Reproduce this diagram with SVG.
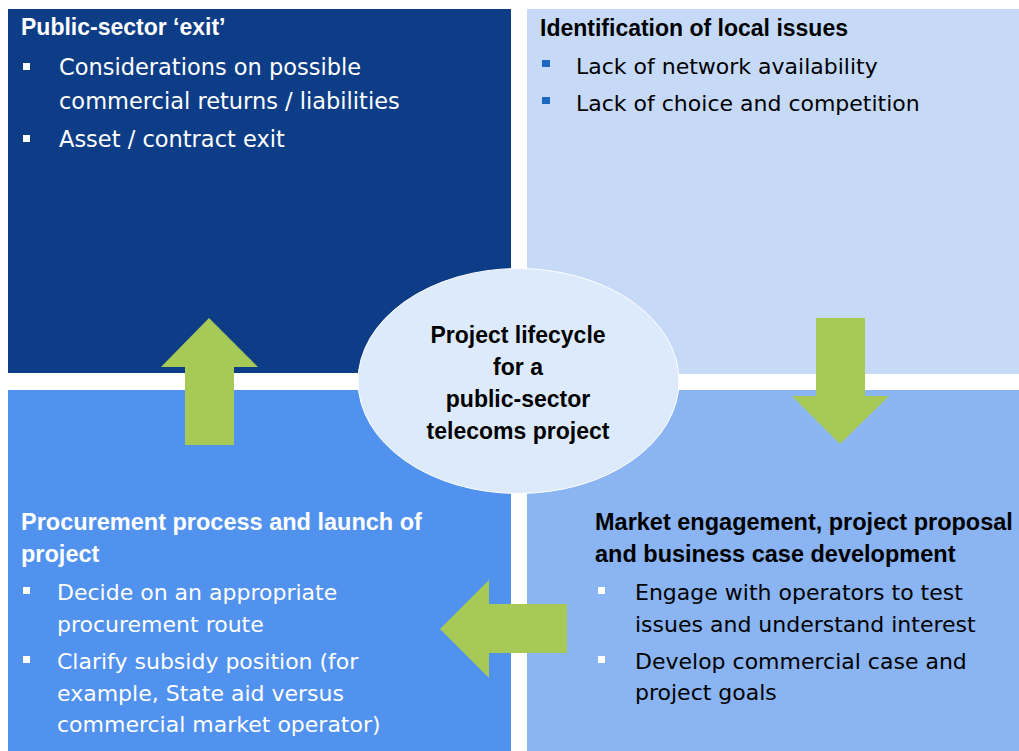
<svg xmlns="http://www.w3.org/2000/svg" width="1019" height="751" viewBox="0 0 1019 751">
  <style>
    .title { font-family: "Liberation Sans", Arial, sans-serif; font-weight: bold; font-size: 23px; }
    .title.wide { font-size: 23.5px; }
    .item { font-family: "DejaVu Sans", Verdana, sans-serif; font-size: 22px; }
    .item.big { font-size: 22.5px; }
    .light { fill: #FFFFFF; }
    .dark { fill: #000000; }
    .center { font-family: "Liberation Sans", Arial, sans-serif; font-weight: bold; font-size: 23px; fill: #000000; text-anchor: middle; }
    .arrow { fill: #A7CA57; }
  </style>
  <rect width="1019" height="751" fill="#FFFFFF"/>

  <!-- Stage 4: exit -->
  <g id="exit">
    <rect x="8" y="9" width="503" height="364" fill="#0E3D87"/>
    <text class="title light" x="21" y="35">Public-sector ‘exit’</text>
    <rect x="23" y="63" width="7" height="7" fill="#FFFFFF"/>
    <text class="item big light" x="59" y="75">Considerations on possible</text>
    <text class="item big light" x="59" y="109">commercial returns / liabilities</text>
    <rect x="23" y="135" width="7" height="7" fill="#FFFFFF"/>
    <text class="item big light" x="59" y="147">Asset / contract exit</text>
  </g>

  <!-- Stage 1: local issues -->
  <g id="issues">
    <rect x="527" y="9" width="492" height="365" fill="#C6DAF8"/>
    <text class="title dark" x="540" y="36">Identification of local issues</text>
    <rect x="542" y="60" width="8" height="7" fill="#1A68C0"/>
    <text class="item dark" x="576" y="74">Lack of network availability</text>
    <rect x="542" y="97" width="8" height="7" fill="#1A68C0"/>
    <text class="item dark" x="576" y="111">Lack of choice and competition</text>
  </g>

  <!-- Stage 3: procurement -->
  <g id="procurement">
    <rect x="8" y="390" width="503" height="361" fill="#5192EF"/>
    <text class="title wide light" x="21" y="530">Procurement process and launch of</text>
    <text class="title wide light" x="21" y="562">project</text>
    <rect x="23" y="587" width="7" height="7" fill="#FFFFFF"/>
    <text class="item light" x="57" y="600">Decide on an appropriate</text>
    <text class="item light" x="57" y="632">procurement route</text>
    <rect x="23" y="656" width="7" height="7" fill="#FFFFFF"/>
    <text class="item light" x="57" y="669">Clarify subsidy position (for</text>
    <text class="item light" x="57" y="701">example, State aid versus</text>
    <text class="item light" x="57" y="732">commercial market operator)</text>
  </g>

  <!-- Stage 2: market engagement -->
  <g id="engagement">
    <rect x="527" y="390" width="492" height="361" fill="#8AB4F2"/>
    <text class="title wide dark" x="595" y="530">Market engagement, project proposal</text>
    <text class="title wide dark" x="595" y="562">and business case development</text>
    <rect x="598" y="587" width="7" height="7" fill="#FFFFFF"/>
    <text class="item dark" x="635" y="600">Engage with operators to test</text>
    <text class="item dark" x="635" y="632">issues and understand interest</text>
    <rect x="598" y="656" width="7" height="7" fill="#FFFFFF"/>
    <text class="item dark" x="635" y="669">Develop commercial case and</text>
    <text class="item dark" x="635" y="700">project goals</text>
  </g>

  <!-- Cycle arrows -->
  <g id="connectors">
    <polygon class="arrow" points="840,444 889,396 865,396 865,318 816,318 816,396 792,396"/>
    <polygon class="arrow" points="440,629 489,580 489,604 567,604 567,653 489,653 489,678"/>
    <polygon class="arrow" points="209,318 258,367 234,367 234,445 185,445 185,367 161,367"/>
  </g>

  <!-- Hub -->
  <g id="hub">
    <ellipse cx="518.5" cy="381" rx="160.5" ry="112.5" fill="#DDEAFB" stroke="#FFFFFF" stroke-width="1"/>
    <text class="center" x="518" y="343">Project lifecycle</text>
    <text class="center" x="518" y="375">for a</text>
    <text class="center" x="518" y="407">public-sector</text>
    <text class="center" x="518" y="439">telecoms project</text>
  </g>
</svg>
